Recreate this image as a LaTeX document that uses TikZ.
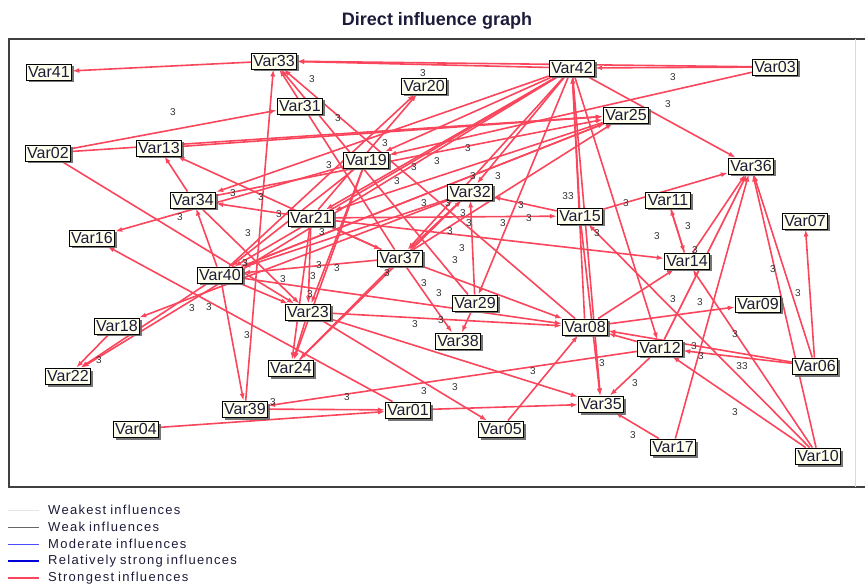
\documentclass[tikz,border=0pt]{standalone}
\usepackage{fontspec}
\setmainfont{Liberation Sans}
\newfontfamily\legendfont[LetterSpace=10,WordSpace=0.8]{Liberation Sans}
\usetikzlibrary{arrows.meta,shadows}
\definecolor{infred}{RGB}{250,70,92}
\definecolor{boxfill}{RGB}{255,255,238}
\definecolor{txtnavy}{RGB}{28,28,58}
\pgfdeclarelayer{bg}
\pgfsetlayers{bg,main}
\tikzset{
  var/.style={draw=black, line width=0.9pt, fill=boxfill, inner xsep=2pt,
    inner ysep=0pt, minimum height=16pt, text height=11.5pt, text depth=0.5pt,
    font=\fontsize{16}{16}\selectfont, text=txtnavy,
    drop shadow={shadow xshift=2.5pt, shadow yshift=-2.5pt, fill=black!60, opacity=0.9}},
  infl/.style={draw=infred, line width=1.6pt, -{Latex[length=7pt,width=5pt]}},
  wt/.style={font=\fontsize{10}{10}\selectfont, text=black!80, inner sep=0pt},
  legtext/.style={anchor=west, inner sep=0pt, font=\legendfont\fontsize{13}{13}\selectfont, text=txtnavy}
}

\begin{document}
\begin{tikzpicture}[x=1pt,y=-1pt]
  \useasboundingbox (0,0) rectangle (865,585);
  % title and frame
  \node[font=\bfseries\fontsize{18}{19}\selectfont, text=txtnavy] (title) at (437,21) {Direct influence graph};
  \draw[line width=1.2pt, black!75] (865,39) -- (9,39) -- (9,487) -- (865,487);
  \draw[line width=0.5pt, black!15] (855,39) -- (855,487);
  % variables
  \foreach \n/\x/\y in {41/49/72, 33/274/61, 42/572/68, 03/775/67, 20/424/86,
    31/300/106, 25/626/115, 02/48/153, 13/159/148, 19/366/160, 36/751/166,
    32/470/192, 34/193/200, 11/668/200, 21/311/218, 15/580/216, 07/805/221,
    16/92/238, 37/400/258, 14/687/261, 40/220/275, 29/475/303, 09/758/304,
    23/308/312, 18/117/326, 08/585/327, 38/458/341, 12/660/348, 06/815/366,
    22/68/376, 24/291/368, 39/245/409, 01/408/410, 35/601/404, 04/136/429,
    05/501/429, 17/673/447, 10/818/456}
    \node[var] (v\n) at (\x,\y) {Var\n};
  % influences
  \begin{pgfonlayer}{bg}
    \foreach \a/\b in {33/41, 42/33, 03/33, 03/42, 42/36, 03/19, 02/31, 02/25,
      02/23, 34/13, 37/13, 34/25, 42/34, 19/16, 01/16, 23/05, 39/33, 08/33,
      37/33, 29/33, 42/19, 42/21, 42/37, 42/32, 42/29, 42/40, 42/22, 15/42,
      42/12, 42/35, 08/42, 13/25, 37/25, 40/25, 40/20, 21/20, 19/40, 19/24,
      19/23, 32/37, 32/18, 15/32, 29/32, 21/15, 21/14, 21/23, 21/24, 21/37,
      37/38, 37/08, 37/40, 37/24, 40/34, 34/23, 40/23, 40/22, 40/08, 40/39,
      29/38, 15/36, 15/35, 10/15, 11/14, 14/11, 14/36, 12/36, 17/36, 10/36,
      06/36, 06/07, 06/12, 06/08, 10/14, 10/12, 12/08, 12/35, 12/39, 08/09,
      05/08, 17/35, 01/35, 39/01, 04/01, 23/35, 23/08, 08/14, 24/32, 23/24,
      21/34, 25/21, 25/40, 32/40, 18/22}
      \draw[infl] (v\a) -- (v\b);
  \end{pgfonlayer}
  % weights
  \foreach \x/\y [count=\i] in {173/112, 233/193, 261/197, 279/214, 180/217,
    312/79, 423/73, 338/118, 385/143, 468/148, 329/165, 414/167, 437/161,
    397/181, 473/176, 498/176, 424/203, 448/203, 463/213, 521/205, 529/218,
    469/223, 503/223, 673/77, 668/104, 626/203, 322/232, 450/231, 462/248,
    455/260, 319/265, 337/268, 313/276, 283/279, 387/273, 310/294, 424/283,
    439/293, 441/320, 415/324, 533/371, 424/391, 455/387, 347/397, 597/233,
    657/236, 688/226, 695/250, 773/269, 798/293, 673/299, 700/302, 735/334,
    694/346, 701/356, 602/363, 635/383, 248/233, 245/263, 192/308, 209/307,
    247/335, 99/360, 273/402, 735/412, 633/435}
    \node[wt] (w\i) at (\x,\y) {3};
  \node[wt] (w33a) at (568,196) {33};
  \node[wt] (w33b) at (742,366) {33};
  % legend
  \foreach \k/\txt/\col/\lw [count=\j] in {
      0/Weakest influences/black!10/0.6pt,
      1/Weak influences/black!60/0.7pt,
      2/Moderate influences/blue!70/0.9pt,
      3/Relatively strong influences/blue!85!black/2pt,
      4/Strongest influences/infred/2.8pt} {
    \coordinate (la\j) at (8,510+17*\k);
    \coordinate (lb\j) at (39,510+17*\k);
    \draw[draw=\col, line width=\lw] (la\j) -- (lb\j);
    \node[legtext] (lt\j) at (48,510+17*\k) {\txt};
  }
\end{tikzpicture}
\end{document}
